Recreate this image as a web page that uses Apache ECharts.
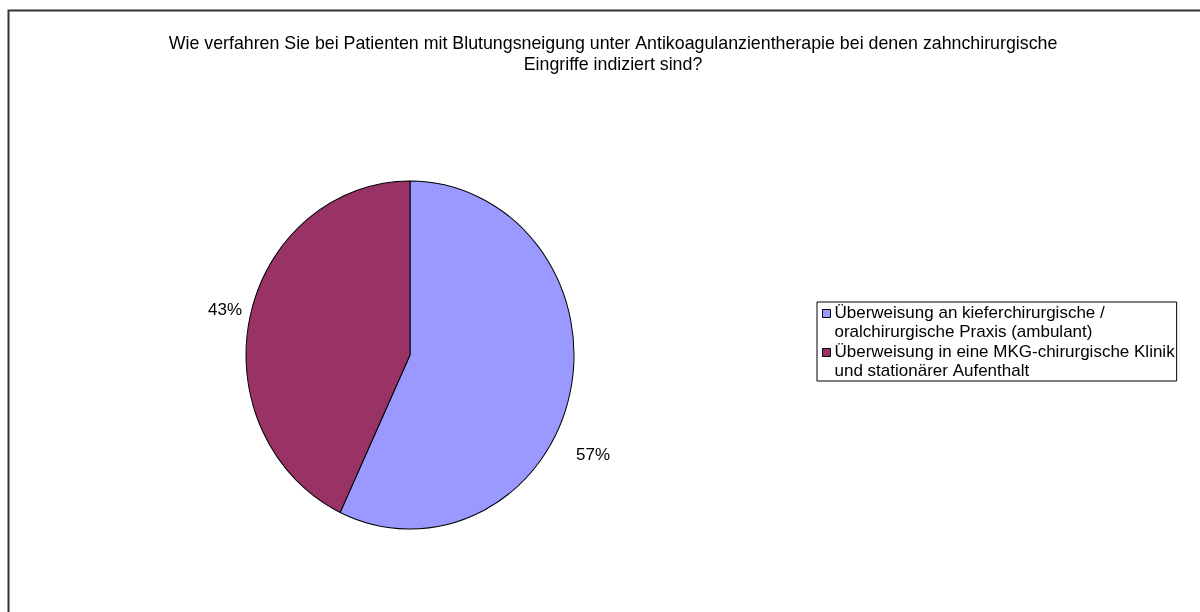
<!DOCTYPE html>
<html>
<head>
<meta charset="utf-8">
<title>Antikoagulanzientherapie</title>
<script src="https://cdn.jsdelivr.net/npm/echarts@6/dist/echarts.min.js"></script>
<style>
  html, body { margin: 0; padding: 0; background: #fff; }
  .wrap { position: relative; width: 1200px; height: 612px; overflow: hidden; }
  .layer { position: absolute; left: 0; top: 0; width: 1200px; height: 612px; }
  /* the original pie is slightly taller than wide */
  #pie { transform: scaleY(1.061); transform-origin: 410px 355px; }
</style>
</head>
<body>
<div class="wrap">
  <div id="pie" class="layer"></div>
  <div id="chart" class="layer"></div>
</div>
<script>
var categories = [
  'Überweisung an kieferchirurgische /\noralchirurgische Praxis (ambulant)',
  'Überweisung in eine MKG-chirurgische Klinik\nund stationärer Aufenthalt'
]
var values = [57, 43]
var colors = ['#9999FF', '#993366']
var titleText = 'Wie verfahren Sie bei Patienten mit Blutungsneigung unter Antikoagulanzientherapie bei denen zahnchirurgische\nEingriffe indiziert sind?'

var pieCenter = [410, 355]
var pieRadius = 164
// label offsets from pie center (Excel "best fit" placement)
var labelOffsets = [[183, 100], [-185, -45]]
var font = 'Liberation Sans, Arial, sans-serif'

function pieData(fill) {
  return categories.map(function (name, i) {
    return { name: name, value: values[i], itemStyle: { color: fill ? colors[i] : 'rgba(0,0,0,0)' } }
  })
}

// bottom layer: the slices only
var pieChart = echarts.init(document.getElementById('pie'), null, { renderer: 'svg' })
pieChart.setOption({
  animation: false,
  series: [{
    type: 'pie',
    center: pieCenter,
    radius: pieRadius,
    startAngle: 90,
    clockwise: true,
    silent: true,
    itemStyle: { borderColor: '#000', borderWidth: 1 },
    label: { show: false },
    labelLine: { show: false },
    data: pieData(true)
  }]
})

// top layer: frame, title, legend, percent labels
var chart = echarts.init(document.getElementById('chart'))
chart.setOption({
  animation: false,
  textStyle: { fontFamily: font },
  graphic: [{
    type: 'rect',
    shape: { x: 8.5, y: 10.5, width: 1300, height: 700 },
    style: { fill: 'none', stroke: '#333', lineWidth: 2 },
    silent: true
  }],
  title: {
    text: titleText,
    left: 608,
    top: 29,
    textAlign: 'center',
    textStyle: {
      fontSize: 17.8,
      fontWeight: 'normal',
      color: '#000',
      lineHeight: 21,
      fontFamily: font
    }
  },
  legend: {
    orient: 'vertical',
    left: 817,
    top: 302,
    padding: [2, 2, 0, 5],
    itemGap: 1,
    itemWidth: 8,
    itemHeight: 27,
    borderColor: '#000',
    borderWidth: 1,
    borderRadius: 0,
    selectedMode: false,
    textStyle: {
      fontSize: 17,
      color: '#000',
      lineHeight: 19,
      padding: [0, 0, 0, -1]
    },
    data: categories.map(function (name, i) {
      return {
        name: name,
        // square on the first text line
        icon: 'path://M0,0L8,0L8,8L0,8Z M0,27',
        itemStyle: { color: colors[i], borderColor: '#000', borderWidth: 1, opacity: 1 }
      }
    })
  },
  series: [{
    type: 'pie',
    center: pieCenter,
    radius: pieRadius,
    startAngle: 90,
    clockwise: true,
    silent: true,
    avoidLabelOverlap: false,
    itemStyle: { borderWidth: 0 },
    label: {
      show: true,
      position: 'outside',
      formatter: '{c}%',
      fontSize: 17,
      color: '#000'
    },
    labelLine: { show: false },
    labelLayout: function (params) {
      var off = labelOffsets[params.dataIndex]
      return {
        x: pieCenter[0] + off[0],
        y: pieCenter[1] + off[1],
        align: 'center',
        verticalAlign: 'middle'
      }
    },
    data: pieData(false)
  }]
})
</script>
</body>
</html>
